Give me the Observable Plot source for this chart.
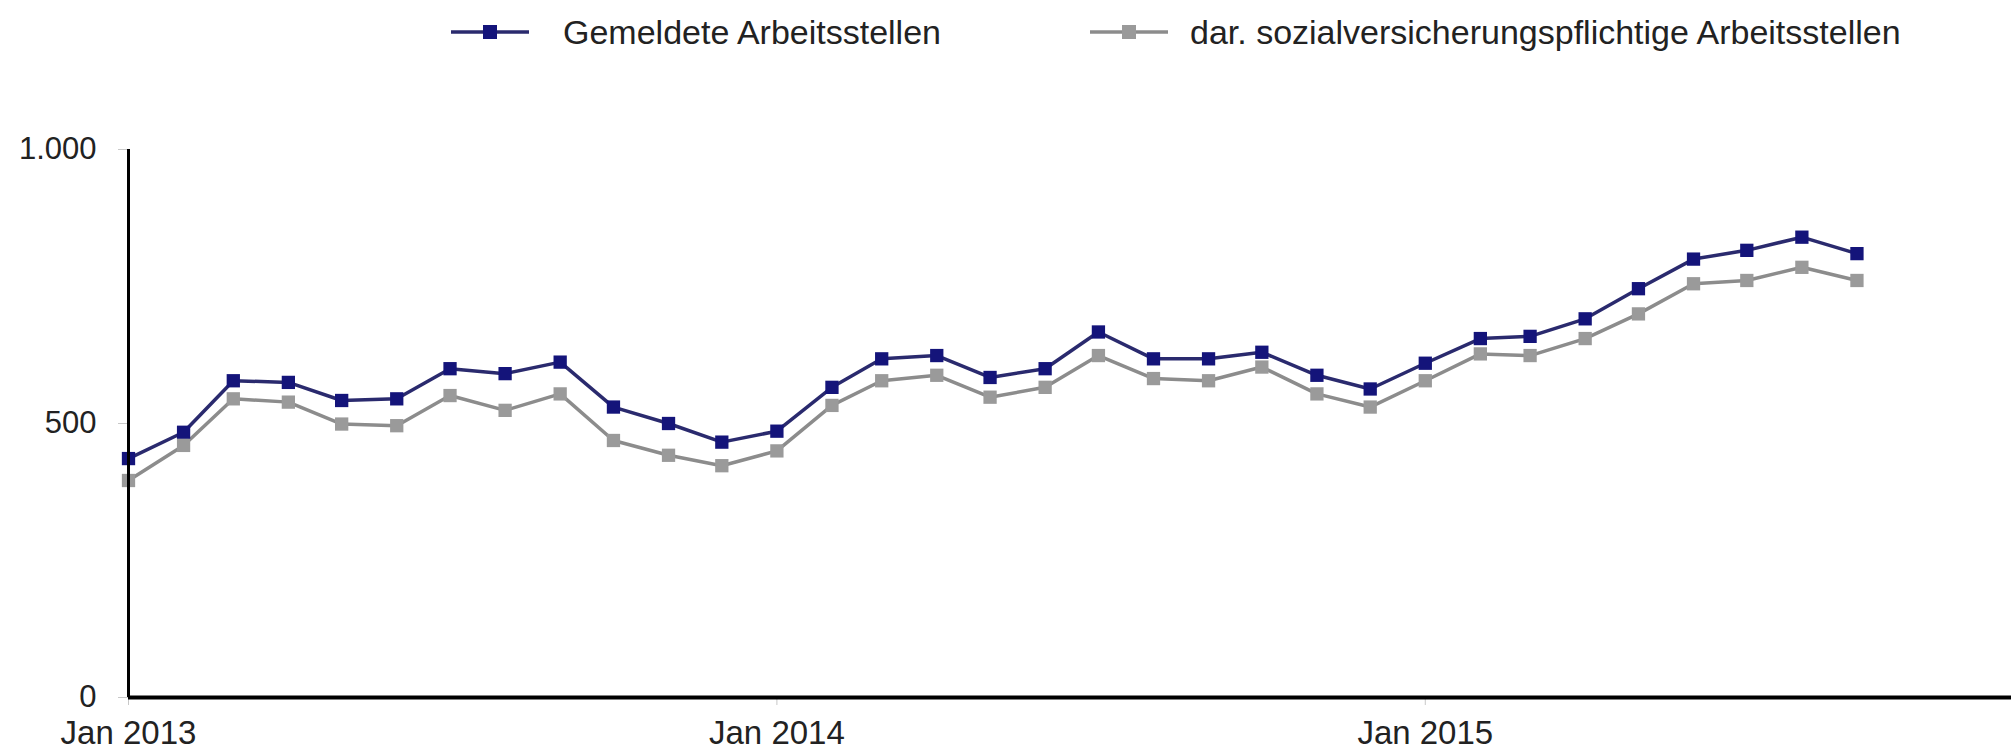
<!DOCTYPE html>
<html>
<head>
<meta charset="utf-8">
<script src="https://cdn.jsdelivr.net/npm/d3@7"></script>
<script src="https://cdn.jsdelivr.net/npm/@observablehq/plot@0.6"></script>
<style>
  html, body { margin: 0; padding: 0; background: #fff; }
  body { font-family: "Liberation Sans", Arial, sans-serif; width: 2011px; height: 754px; overflow: hidden; }
  #legend { position: relative; width: 2011px; height: 70px; }
  .lg-sym { position: absolute; top: 20px; }
  .lg-txt { position: absolute; top: 12px; font-size: 34px; color: #222; white-space: nowrap; line-height: 40px; }
</style>
</head>
<body>
<div id="legend"></div>
<div id="chart"></div>
<script>
// ---- data ----
const months = [
  "2013-01","2013-02","2013-03","2013-04","2013-05","2013-06","2013-07","2013-08","2013-09","2013-10","2013-11","2013-12",
  "2014-01","2014-02","2014-03","2014-04","2014-05","2014-06","2014-07","2014-08","2014-09","2014-10","2014-11","2014-12",
  "2015-01","2015-02","2015-03","2015-04","2015-05","2015-06","2015-07","2015-08","2015-09"
];
const gemeldete = [436,484,578,575,542,545,600,591,612,530,500,466,486,566,618,624,584,600,667,618,618,630,588,563,610,655,659,691,746,800,816,840,810];
const svPflichtig = [396,460,545,539,499,496,551,524,554,469,442,423,450,533,578,588,548,566,624,582,578,603,554,530,578,627,624,655,700,755,761,785,761];
const seriesNames = ["Gemeldete Arbeitsstellen", "dar. sozialversicherungspflichtige Arbeitsstellen"];
const seriesColors = ["#14147a", "#9a9a9a"];
const lineColors = ["#2a2a6e", "#8c8c8c"];
const yTicks = [0, 500, 1000];
const xTickDates = ["2013-01-01", "2014-01-01", "2015-01-01"];
const xTickLabels = ["Jan 2013", "Jan 2014", "Jan 2015"];
const xDomain = ["2013-01-01", "2015-11-27"];

// ---- table ----
const rows = [];
months.forEach((m, i) => {
  rows.push({date: new Date(m + "-01"), value: gemeldete[i], series: seriesNames[0]});
  rows.push({date: new Date(m + "-01"), value: svPflichtig[i], series: seriesNames[1]});
});

const deFmt = d => d3.format(",")(d).replace(/,/g, ".");

// ---- legend ----
const legend = document.getElementById("legend");
const legendPos = [{sym: 451, txt: 563}, {sym: 1090, txt: 1190}];
seriesNames.forEach((name, i) => {
  const ns = "http://www.w3.org/2000/svg";
  const s = document.createElementNS(ns, "svg");
  s.setAttribute("width", 78); s.setAttribute("height", 24);
  s.setAttribute("class", "lg-sym");
  s.style.left = legendPos[i].sym + "px";
  const l = document.createElementNS(ns, "line");
  l.setAttribute("x1", 0); l.setAttribute("x2", 78); l.setAttribute("y1", 12); l.setAttribute("y2", 12);
  l.setAttribute("stroke", lineColors[i]); l.setAttribute("stroke-width", 3.5);
  s.appendChild(l);
  const r = document.createElementNS(ns, "rect");
  r.setAttribute("x", 32); r.setAttribute("y", 5); r.setAttribute("width", 14); r.setAttribute("height", 14);
  r.setAttribute("fill", seriesColors[i]);
  s.appendChild(r);
  legend.appendChild(s);
  const t = document.createElement("div");
  t.className = "lg-txt";
  t.style.left = legendPos[i].txt + "px";
  t.textContent = name;
  legend.appendChild(t);
});

// ---- chart ----
const chart = Plot.plot({
  width: 2011,
  height: 684,
  marginLeft: 128,
  marginRight: 0,
  marginTop: 79,
  marginBottom: 57,
  style: {fontFamily: '"Liberation Sans", Arial, sans-serif', fontSize: "31px", background: "#fff", color: "#222", overflow: "visible"},
  x: {type: "utc", domain: xDomain.map(d => new Date(d)), label: null},
  y: {domain: [0, 1000], label: null},
  color: {domain: seriesNames, range: seriesColors},
  marks: [
    Plot.axisX({
      ticks: xTickDates.map(d => new Date(d)),
      tickFormat: (d, i) => xTickLabels[i],
      tickSize: 8, tickPadding: 15, stroke: "#c8c8c8", fill: "#222", label: null, fontSize: 33
    }),
    Plot.axisY({
      ticks: yTicks, tickFormat: deFmt,
      tickSize: 10, tickPadding: 22, stroke: "#c8c8c8", fill: "#222", label: null, fontSize: 31
    }),
    Plot.line(rows, {x: "date", y: "value", z: "series", stroke: d => d.series === seriesNames[0] ? lineColors[0] : lineColors[1], strokeWidth: 3.5}),
    Plot.dot(rows, {x: "date", y: "value", fill: "series", symbol: "square", r: 7.5}),
    Plot.ruleX([new Date(xDomain[0])], {y1: 0, y2: 1000, stroke: "#000", strokeWidth: 3}),
    Plot.ruleY([0], {stroke: "#000", strokeWidth: 4})
  ]
});
document.getElementById("chart").appendChild(chart);
</script>
</body>
</html>
